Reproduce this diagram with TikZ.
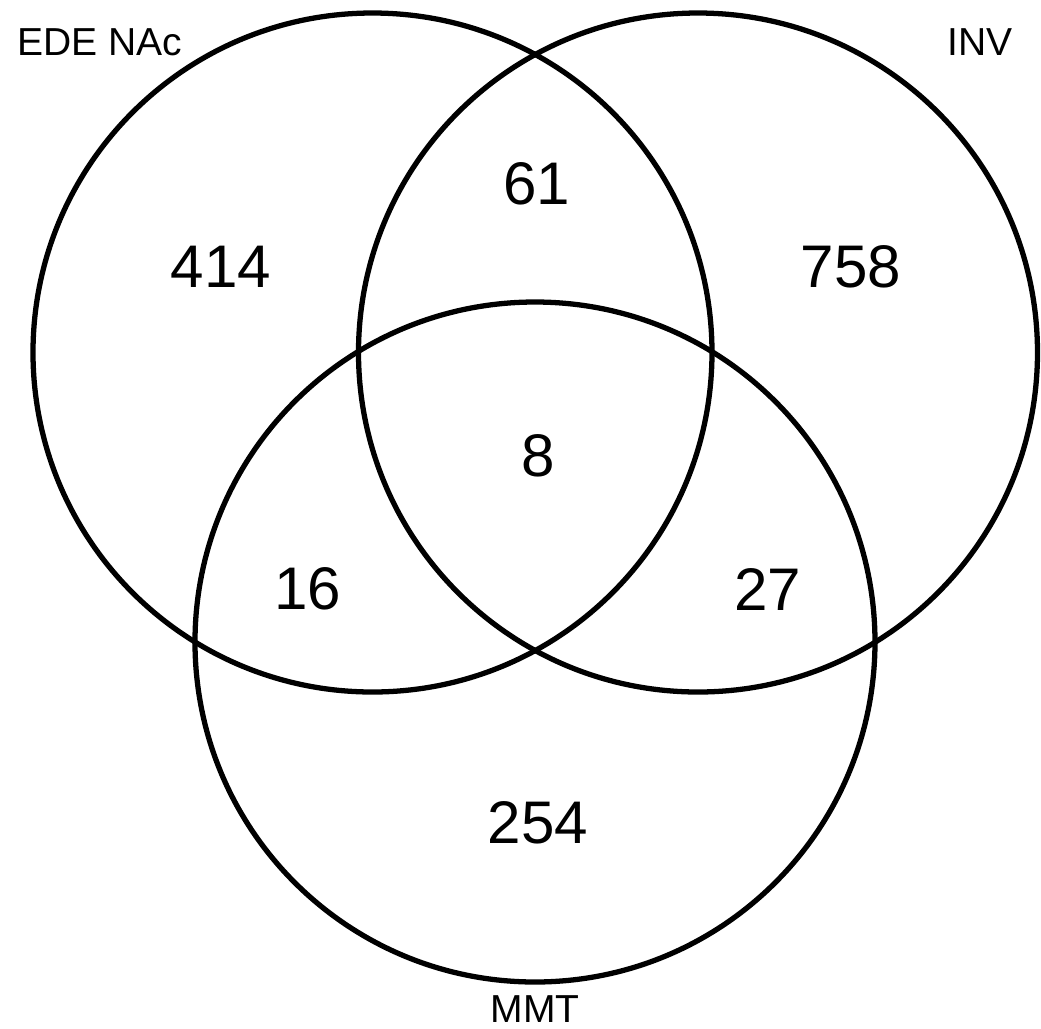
\documentclass[tikz,border=0pt]{standalone}
\usepackage{fontspec}
\setmainfont{Liberation Sans}
\usepackage{tikz}

\tikzset{
  venn/.style={line width=1.5pt, black},
  count/.style={inner sep=0pt, font=\fontsize{17.1}{20}\selectfont},
  setname/.style={inner sep=0pt, font=\fontsize{11.1}{13}\selectfont}
}

\begin{document}
\begin{tikzpicture}[x=0.01cm, y=-0.01cm]
			\useasboundingbox (0,0) rectangle (1041,1029);
			% the three sets
			\draw[venn] (372.5,352.5) circle (339.5);
			\draw[venn] (698,352.5) circle (339.5);
			\draw[venn] (535,642) circle (340);
			% set names
			\node[setname] (ede) at (100,42) {EDE NAc};
			\node[setname] (inv) at (980,42) {INV};
			\node[setname] (mmt) at (535,1009) {MMT};
			% region counts
			\node[count] (onlyede) at (221,267) {414};
			\node[count] (onlyinv) at (851,267) {758};
			\node[count] (onlymmt) at (538,823) {254};
			\node[count] (edeinv) at (537,184) {61};
			\node[count] (edemmt) at (308,589) {16};
			\node[count] (invmmt) at (768,589) {27};
			\node[count] (all) at (538,456) {8};
		\end{tikzpicture}
\end{document}
